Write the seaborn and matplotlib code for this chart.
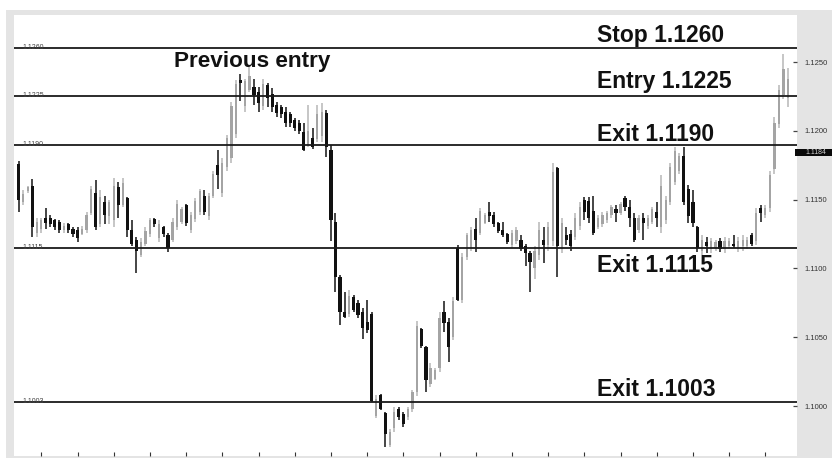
import numpy as np
import pandas as pd
import matplotlib
matplotlib.use("Agg")
import matplotlib.pyplot as plt
import matplotlib.transforms as mtransforms
from matplotlib.patches import Rectangle
import seaborn as sns

# ---------------- data ----------------
opens = [
    1.1176, 1.1148, 1.1156, 1.1160, 1.1126, 1.1129, 1.1137, 1.1137, 1.1135, 1.1134, 1.1128, 1.1132, 1.1129, 1.1128, 1.1125, 1.1128, 1.1140, 1.1155, 1.1132, 1.1148, 1.1138, 1.1135, 1.1159, 1.1146, 1.1151, 1.1128, 1.1121, 1.1110, 1.1118, 1.1125, 1.1136,
    1.1122, 1.1130, 1.1124, 1.1121, 1.1130, 1.1134, 1.1146, 1.1128, 1.1136, 1.1141, 1.1153, 1.1138, 1.1153, 1.1175, 1.1155, 1.1174, 1.1180, 1.1198, 1.1237, 1.1218, 1.1230, 1.1232, 1.1228, 1.1218, 1.1233, 1.1227, 1.1219, 1.1217, 1.1214, 1.1212,
    1.1208, 1.1206, 1.1199, 1.1190, 1.1195, 1.1194, 1.1196, 1.1213, 1.1186, 1.1134, 1.1094, 1.1068, 1.1067, 1.1079, 1.1075, 1.1068, 1.1061, 1.1067, 1.0993, 1.1008, 1.0995, 1.0972, 1.0984, 1.0998, 1.0994, 1.0992, 1.0998, 1.1010, 1.1056, 1.1043,
    1.1016, 1.1020, 1.1028, 1.1068, 1.1061, 1.1050, 1.1115, 1.1077, 1.1108, 1.1115, 1.1129, 1.1126, 1.1133, 1.1141, 1.1139, 1.1133, 1.1128, 1.1125, 1.1117, 1.1120, 1.1121, 1.1116, 1.1111, 1.1100, 1.1110, 1.1121, 1.1117, 1.1120, 1.1173,
    1.1114, 1.1124, 1.1125, 1.1123, 1.1131, 1.1150, 1.1149, 1.1142, 1.1130, 1.1132, 1.1135, 1.1139, 1.1143, 1.1140, 1.1151, 1.1145, 1.1137, 1.1128, 1.1137, 1.1131, 1.1134, 1.1141, 1.1130, 1.1135, 1.1148, 1.1163, 1.1171, 1.1182, 1.1158, 1.1148,
    1.1130, 1.1113, 1.1119, 1.1114, 1.1115, 1.1120, 1.1114, 1.1116, 1.1118, 1.1115, 1.1116, 1.1116, 1.1124, 1.1120, 1.1144, 1.1139, 1.1144, 1.1172, 1.1205, 1.1226, 1.1224,
]
highs = [
    1.1178, 1.1157, 1.1160, 1.1165, 1.1137, 1.1137, 1.1144, 1.1139, 1.1136, 1.1135, 1.1133, 1.1133, 1.1130, 1.1130, 1.1131, 1.1141, 1.1160, 1.1164, 1.1157, 1.1153, 1.1150, 1.1166, 1.1163, 1.1166, 1.1152, 1.1135, 1.1123, 1.1122, 1.1130, 1.1137, 1.1137,
    1.1135, 1.1131, 1.1126, 1.1137, 1.1150, 1.1145, 1.1147, 1.1141, 1.1151, 1.1158, 1.1157, 1.1155, 1.1171, 1.1186, 1.1180, 1.1197, 1.1221, 1.1237, 1.1241, 1.1238, 1.1248, 1.1238, 1.1232, 1.1238, 1.1235, 1.1231, 1.1221, 1.1219, 1.1217, 1.1214,
    1.1209, 1.1208, 1.1206, 1.1219, 1.1202, 1.1219, 1.1220, 1.1215, 1.1190, 1.1140, 1.1095, 1.1083, 1.1084, 1.1081, 1.1077, 1.1071, 1.1077, 1.1068, 1.1008, 1.1009, 1.0996, 1.0983, 1.0999, 1.0999, 1.0996, 1.0999, 1.1012, 1.1062, 1.1057, 1.1044,
    1.1031, 1.1028, 1.1068, 1.1076, 1.1064, 1.1079, 1.1117, 1.1111, 1.1126, 1.1130, 1.1137, 1.1144, 1.1140, 1.1148, 1.1141, 1.1134, 1.1134, 1.1126, 1.1128, 1.1130, 1.1124, 1.1118, 1.1113, 1.1116, 1.1134, 1.1130, 1.1134, 1.1177, 1.1174,
    1.1137, 1.1130, 1.1128, 1.1140, 1.1148, 1.1152, 1.1152, 1.1153, 1.1139, 1.1141, 1.1142, 1.1146, 1.1146, 1.1148, 1.1153, 1.1150, 1.1140, 1.1139, 1.1140, 1.1139, 1.1145, 1.1148, 1.1168, 1.1153, 1.1177, 1.1188, 1.1184, 1.1188, 1.1161, 1.1157,
    1.1131, 1.1124, 1.1123, 1.1122, 1.1121, 1.1122, 1.1123, 1.1122, 1.1124, 1.1123, 1.1124, 1.1123, 1.1126, 1.1144, 1.1146, 1.1146, 1.1171, 1.1210, 1.1233, 1.1256, 1.1246,
]
lows = [
    1.1141, 1.1146, 1.1155, 1.1123, 1.1123, 1.1126, 1.1129, 1.1130, 1.1128, 1.1126, 1.1126, 1.1126, 1.1123, 1.1119, 1.1124, 1.1126, 1.1139, 1.1128, 1.1130, 1.1132, 1.1132, 1.1130, 1.1137, 1.1145, 1.1123, 1.1116, 1.1097, 1.1108, 1.1116, 1.1123, 1.1130,
    1.1119, 1.1123, 1.1112, 1.1119, 1.1128, 1.1132, 1.1131, 1.1126, 1.1134, 1.1139, 1.1139, 1.1135, 1.1151, 1.1158, 1.1152, 1.1171, 1.1177, 1.1195, 1.1222, 1.1214, 1.1228, 1.1219, 1.1214, 1.1215, 1.1217, 1.1214, 1.1210, 1.1209, 1.1203, 1.1203,
    1.1200, 1.1198, 1.1185, 1.1188, 1.1187, 1.1192, 1.1192, 1.1181, 1.1120, 1.1083, 1.1059, 1.1064, 1.1065, 1.1068, 1.1064, 1.1049, 1.1053, 1.1003, 1.0991, 1.0997, 1.0970, 1.0970, 1.0981, 1.0990, 1.0985, 1.0990, 1.0996, 1.1007, 1.1042, 1.1010,
    1.1014, 1.1019, 1.1025, 1.1054, 1.1032, 1.1048, 1.1076, 1.1075, 1.1106, 1.1113, 1.1112, 1.1124, 1.1132, 1.1134, 1.1130, 1.1126, 1.1123, 1.1118, 1.1115, 1.1118, 1.1113, 1.1102, 1.1083, 1.1092, 1.1106, 1.1104, 1.1113, 1.1116, 1.1094,
    1.1111, 1.1117, 1.1113, 1.1121, 1.1128, 1.1135, 1.1133, 1.1124, 1.1129, 1.1130, 1.1133, 1.1137, 1.1134, 1.1139, 1.1142, 1.1130, 1.1119, 1.1126, 1.1121, 1.1129, 1.1132, 1.1130, 1.1126, 1.1132, 1.1146, 1.1161, 1.1169, 1.1146, 1.1133, 1.1130,
    1.1112, 1.1110, 1.1111, 1.1111, 1.1113, 1.1112, 1.1111, 1.1115, 1.1115, 1.1112, 1.1113, 1.1114, 1.1116, 1.1117, 1.1134, 1.1137, 1.1141, 1.1169, 1.1202, 1.1223, 1.1217,
]
closes = [
    1.1150, 1.1154, 1.1159, 1.1130, 1.1134, 1.1135, 1.1133, 1.1132, 1.1130, 1.1128, 1.1131, 1.1128, 1.1125, 1.1122, 1.1129, 1.1139, 1.1158, 1.1130, 1.1152, 1.1139, 1.1148, 1.1160, 1.1146, 1.1162, 1.1128, 1.1118, 1.1113, 1.1119, 1.1127, 1.1135, 1.1132,
    1.1132, 1.1125, 1.1115, 1.1134, 1.1147, 1.1143, 1.1133, 1.1139, 1.1149, 1.1156, 1.1141, 1.1153, 1.1169, 1.1168, 1.1177, 1.1195, 1.1218, 1.1234, 1.1235, 1.1236, 1.1240, 1.1226, 1.1220, 1.1234, 1.1224, 1.1217, 1.1213, 1.1212, 1.1206, 1.1206,
    1.1202, 1.1200, 1.1186, 1.1200, 1.1188, 1.1212, 1.1214, 1.1188, 1.1135, 1.1094, 1.1068, 1.1065, 1.1080, 1.1070, 1.1066, 1.1057, 1.1055, 1.1004, 1.1005, 1.0998, 1.0980, 1.0981, 1.0996, 1.0992, 1.0987, 1.0998, 1.1010, 1.1058, 1.1044, 1.1019,
    1.1028, 1.1026, 1.1064, 1.1060, 1.1043, 1.1076, 1.1077, 1.1108, 1.1124, 1.1128, 1.1121, 1.1142, 1.1139, 1.1138, 1.1132, 1.1127, 1.1124, 1.1119, 1.1126, 1.1128, 1.1114, 1.1111, 1.1105, 1.1113, 1.1128, 1.1117, 1.1130, 1.1170, 1.1116,
    1.1133, 1.1121, 1.1116, 1.1137, 1.1145, 1.1141, 1.1137, 1.1126, 1.1137, 1.1139, 1.1140, 1.1145, 1.1140, 1.1147, 1.1145, 1.1137, 1.1121, 1.1137, 1.1133, 1.1137, 1.1143, 1.1137, 1.1160, 1.1150, 1.1174, 1.1185, 1.1182, 1.1148, 1.1138, 1.1133,
    1.1115, 1.1121, 1.1116, 1.1120, 1.1119, 1.1114, 1.1120, 1.1120, 1.1116, 1.1120, 1.1121, 1.1121, 1.1118, 1.1140, 1.1140, 1.1144, 1.1168, 1.1206, 1.1230, 1.1245, 1.1238,
]

level_values = [1.1260, 1.1225, 1.1190, 1.1115, 1.1003]
level_labels = ["1.1260", "1.1225", "1.1190", "1.1115", "1.1003"]
note_texts = ["Stop 1.1260", "Entry 1.1225", "Exit 1.1190", "Exit 1.1115", "Exit 1.1003"]
note_baselines = [1.12648, 1.12311, 1.11926, 1.10974, 1.10073]
prev_text = "Previous entry"
prev_baseline = 1.12464
yticks = [1.1000, 1.1050, 1.1100, 1.1150, 1.1200, 1.1250]
last_price = 1.1184
title_text = "\u25a0 USD/CAD_1 Hour"

# ---------------- styling ----------------
sns.set_theme(style="white")
plt.rcParams["font.family"] = ["Liberation Sans", "DejaVu Sans"]

W, H = 832, 458
fig = plt.figure(figsize=(W / 100, H / 100), dpi=100, facecolor="white")
fig.patches.append(Rectangle((6 / W, 0), (W - 6) / W, (H - 10) / H,
                             transform=fig.transFigure, facecolor="#e4e4e4",
                             edgecolor="none", zorder=-10))
ax = fig.add_axes([14 / W, 2 / H, 783 / W, 441 / H])
ax.set_zorder(5)
ax.set_facecolor("white")
for s in ax.spines.values():
    s.set_visible(False)

df = pd.DataFrame({"open": opens, "high": highs, "low": lows, "close": closes})
df["idx"] = np.arange(len(df))
df["down"] = df["open"] > df["close"]
df["bottom"] = df[["open", "close"]].min(axis=1)
df["height"] = (df["open"] - df["close"]).abs().clip(lower=0.00005)

up = df[~df["down"]]
dn = df[df["down"]]

ax.vlines(up["idx"], up["low"], up["high"], color="#c2c2c2", lw=1.3, zorder=2)
ax.bar(up["idx"], up["height"], bottom=up["bottom"], width=0.5,
       color="#a4a4a4", edgecolor="none", zorder=2)
ax.vlines(dn["idx"], dn["low"], dn["high"], color="#262626", lw=1.2, zorder=3)
ax.bar(dn["idx"], dn["height"], bottom=dn["bottom"], width=0.7,
       color="#111111", edgecolor="none", zorder=3)

ax.set_xlim(-1.04, 172.0)
ax.set_ylim(1.09637, 1.12842)

for lv in level_values:
    ax.axhline(lv, color="#1a1a1a", lw=1.3, zorder=4)

blend = mtransforms.blended_transform_factory(ax.transAxes, ax.transData)
for lv, lab in zip(level_values, level_labels):
    ax.text(8 / 783, lv - 0.00007, lab, transform=blend, fontsize=5,
            color="#444444", va="baseline", ha="left", zorder=5)

for txt, yb in zip(note_texts, note_baselines):
    ax.text((597 - 14) / 783, yb, txt, transform=blend, fontsize=16.5,
            fontweight="bold", color="#111111", va="baseline", ha="left", zorder=6)
ax.text((174 - 14) / 783, prev_baseline, prev_text, transform=blend, fontsize=16.2,
        fontweight="bold", color="#111111", va="baseline", ha="left", zorder=6)

# right price axis
ax.yaxis.tick_right()
ax.set_yticks(yticks)
ax.set_yticklabels([f"{v:.4f}" for v in yticks])
ax.tick_params(axis="y", which="both", right=True, left=False, direction="in",
               length=3, width=0.9, color="#444444", labelsize=5.5,
               labelcolor="#333333", pad=5.5)

# bottom ticks (no labels)
ax.set_xticks(np.arange(5, len(df), 8))
ax.tick_params(axis="x", which="both", bottom=True, direction="in", length=3,
               width=0.8, color="#333333", labelbottom=False)
ax.grid(False)

# last-price tag on the right panel
fblend = mtransforms.blended_transform_factory(fig.transFigure, ax.transData)
tag = Rectangle((795 / W, last_price - 0.00026), (W - 795) / W, 0.00052,
                transform=fblend, facecolor="#0a0a0a", edgecolor="none", zorder=20)
fig.patches.append(tag)
fig.text(805 / W, last_price, f"{last_price:.4f}", transform=fblend,
         fontsize=5, color="#cfcfcf", va="center", ha="left", zorder=21)

fig.text(18 / W, 1 - 21 / H, title_text, fontsize=5, color="#777777",
         va="center", ha="left", family=["Liberation Sans", "DejaVu Sans"])

fig.savefig("out.png", dpi=100, facecolor="white")
